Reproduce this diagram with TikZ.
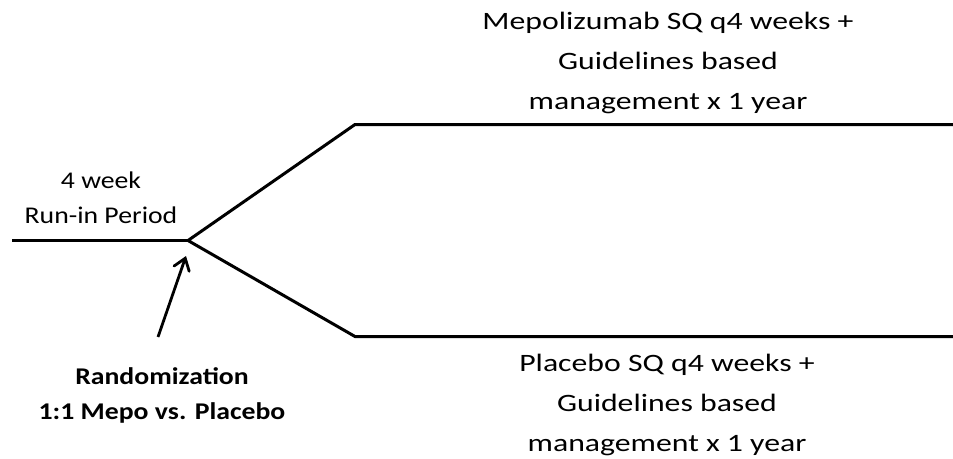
\documentclass[tikz,border=0pt]{standalone}
\usepackage{fontspec}
\setmainfont{Carlito}
\usetikzlibrary{arrows.meta}
\begin{document}
\begin{tikzpicture}[x=1pt,y=-1pt,
  lbl/.style={align=center,inner sep=0pt,font=\fontsize{25}{40}\selectfont,xscale=1.27,transform shape},
  slbl/.style={align=center,inner sep=0pt,font=\fontsize{24}{35}\selectfont,xscale=1.155,transform shape},
  bline/.style={line width=3pt},
  arr/.style={line width=2.8pt,-{Straight Barb[length=11pt,width=16pt,line cap=round]}}]
\useasboundingbox (0,0) rectangle (953,458);
\coordinate (s) at (12,240.5);
\coordinate (b) at (188,240.5);
\coordinate (u1) at (355,124.5);
\coordinate (u2) at (953,124.5);
\coordinate (l1) at (355,336.5);
\coordinate (l2) at (953,336.5);
\coordinate (t) at (158,337);
\coordinate (h) at (186,256);
\draw[bline] (s) -- (b);
\draw[bline,line join=miter] (u2) -- (u1) -- (b) -- (l1) -- (l2);
\draw[arr] (t) -- (h);
\node[lbl] (top) at (668,63) {Mepolizumab SQ q4 weeks +\\Guidelines based\\management x 1 year};
\node[lbl] (bot) at (667,405) {Placebo SQ q4 weeks +\\Guidelines based\\management x 1 year};
\node[slbl] (run) at (101,198) {4 week\\Run-in Period};
\node[slbl,font=\fontsize{24}{35}\selectfont\bfseries] (rand) at (162,395) {Randomization\\1:1 Mepo vs. Placebo};
\end{tikzpicture}
\end{document}
